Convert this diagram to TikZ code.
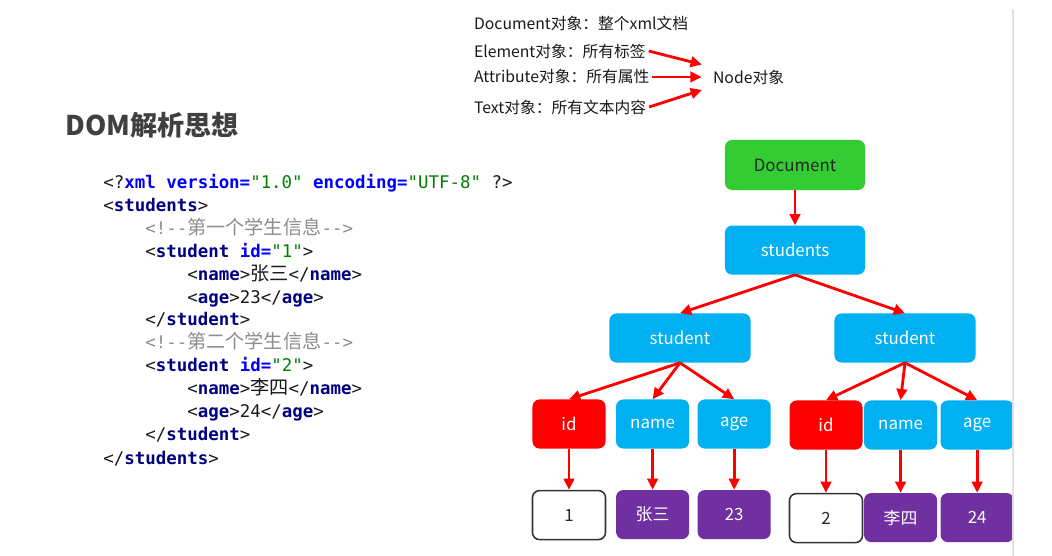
\documentclass[tikz,border=0pt]{standalone}
\usepackage{fontspec}
\setmainfont{Noto Sans CJK SC}
\setmonofont{DejaVu Sans Mono}
\newfontfamily\cjk[Scale=1.1]{Noto Sans CJK SC}
\usetikzlibrary{arrows.meta, positioning}
\definecolor{domGreen}{RGB}{51,204,51}
\definecolor{domBlue}{RGB}{0,176,240}
\definecolor{domRed}{RGB}{255,0,0}
\definecolor{domPurple}{RGB}{112,48,160}
\definecolor{xmlTag}{RGB}{0,0,128}
\definecolor{xmlAttr}{RGB}{0,0,255}
\definecolor{xmlVal}{RGB}{0,128,0}
\definecolor{xmlCom}{RGB}{140,140,140}
\definecolor{titleGray}{RGB}{64,64,64}
\newcommand{\xtag}[1]{\textbf{\color{xmlTag}#1}}
\newcommand{\xattr}[1]{\textbf{\color{xmlAttr}#1}}
\newcommand{\xval}[1]{{\color{xmlVal}#1}}
\newcommand{\xcom}[1]{{\color{xmlCom}#1}}

\begin{document}
\begin{tikzpicture}[
    x=0.025cm, y=-0.025cm,
    box/.style={
      rectangle, rounded corners=5pt, inner sep=0pt,
      minimum width=3.5cm, minimum height=1.225cm,
      font=\fontsize{12}{14}\selectfont
    },
    rootbox/.style={box, fill=domGreen, text=black!85, minimum height=1.25cm},
    elembox/.style={box, fill=domBlue, text=white},
    leaf/.style={box, minimum width=1.825cm},
    attrbox/.style={leaf, fill=domRed, text=white},
    subbox/.style={leaf, fill=domBlue, text=white},
    valbox/.style={leaf, fill=domPurple, text=white},
    plainbox/.style={leaf, fill=white, draw=black!80, line width=1.1pt, text=black!85},
    codeline/.style={anchor=base west, inner sep=0pt, text=black!90,
      font=\ttfamily\fontsize{12.4}{14}\selectfont},
    note/.style={anchor=west, inner sep=2pt, text=black!90,
      font=\fontsize{11.2}{13}\selectfont},
    arr/.style={-{Triangle[length=8pt,width=7.5pt]}, line width=2pt, red},
    sepline/.style={draw=black!12, line width=0.8pt}
  ]
    \useasboundingbox (0,0) rectangle (1052,556);

    % object overview
    \node[note] (docobj) at (471,23) {Document对象：整个xml文档};
    \node[note] (elemobj) at (471,51) {Element对象：所有标签};
    \node[note] (attrobj) at (471,77) {Attribute对象：所有属性};
    \node[note] (textobj) at (471,107) {Text对象：所有文本内容};
    \node[note] (nodeobj) at (710,77) {Node对象};

    \draw[arr, shorten >=6pt] (elemobj.east) -- (nodeobj.north west);
    \draw[arr, shorten >=6pt] (attrobj.east) -- (nodeobj.west);
    \draw[arr, shorten >=6pt] (textobj.east) -- (nodeobj.south west);

    % title and xml source
    \node[anchor=west, inner sep=0pt, text=titleGray,
      font=\bfseries\fontsize{19.3}{22}\selectfont] (title) at (65,125) {DOM解析思想};

    \node[codeline] (ln1) at (103,189) {<?\xattr{xml version=}\xval{"1.0"} \xattr{encoding=}\xval{"UTF-8"} ?>};
    \node[codeline] (ln2) at (103,212) {<\xtag{students}>};
    \node[codeline] (ln3) at (145,235) {\xcom{<!--{\cjk 第一个学生信息}-->}};
    \node[codeline] (ln4) at (145,258) {<\xtag{student} \xattr{id=}\xval{"1"}>};
    \node[codeline] (ln5) at (187,281) {<\xtag{name}>{\cjk 张三}</\xtag{name}>};
    \node[codeline] (ln6) at (187,304) {<\xtag{age}>23</\xtag{age}>};
    \node[codeline] (ln7) at (145,326) {</\xtag{student}>};
    \node[codeline] (ln8) at (145,349) {\xcom{<!--{\cjk 第二个学生信息}-->}};
    \node[codeline] (ln9) at (145,372) {<\xtag{student} \xattr{id=}\xval{"2"}>};
    \node[codeline] (ln10) at (187,395) {<\xtag{name}>{\cjk 李四}</\xtag{name}>};
    \node[codeline] (ln11) at (187,418) {<\xtag{age}>24</\xtag{age}>};
    \node[codeline] (ln12) at (145,441) {</\xtag{student}>};
    \node[codeline] (ln13) at (103,464) {</\xtag{students}>};

    % dom tree
    \node[rootbox] (doc) at (795,165) {Document};
    \node[elembox, below=0.875cm of doc] (students) {students};
    \node[elembox, minimum width=3.525cm] (stuA) at (680,338) {student};
    \node[elembox, minimum width=3.525cm] (stuB) at (905,338) {student};

    \node[attrbox] (idA) at (569,424) {id};
    \node[subbox, right=0.25cm of idA] (nameA) {name};
    \node[subbox, right=0.2cm of nameA] (ageA) {age};
    \node[plainbox, below=1.025cm of idA] (valId1) {1};
    \node[valbox, below=1.025cm of nameA] (valName1) {张三};
    \node[valbox, below=1.025cm of ageA] (valAge1) {23};

    \node[attrbox] (idB) at (826,425) {id};
    \node[subbox, right=0.025cm of idB] (nameB) {name};
    \node[subbox, right=0.075cm of nameB] (ageB) {age};
    \node[plainbox, below=1.075cm of idB] (valId2) {2};
    \node[valbox, below=1.075cm of nameB] (valName2) {李四};
    \node[valbox, below=1.075cm of ageB] (valAge2) {24};

    \draw[arr] (doc) -- (students);
    \draw[arr] (students.south) -- (stuA.north);
    \draw[arr] (students.south) -- (stuB.north);
    \draw[arr] (stuA.south) -- (idA.north);
    \draw[arr] (stuA.south) -- (nameA.north);
    \draw[arr] (stuA.south) -- (ageA.north);
    \draw[arr] (stuB.south) -- (idB.north);
    \draw[arr] (stuB.south) -- (nameB.north);
    \draw[arr] (stuB.south) -- (ageB.north);
    \draw[arr] (idA) -- (valId1);
    \draw[arr] (nameA) -- (valName1);
    \draw[arr] (ageA) -- (valAge1);
    \draw[arr] (idB) -- (valId2);
    \draw[arr] (nameB) -- (valName2);
    \draw[arr] (ageB) -- (valAge2);

    \draw[sepline] (1013,9) -- (1013,556);
  \end{tikzpicture}
\end{document}
